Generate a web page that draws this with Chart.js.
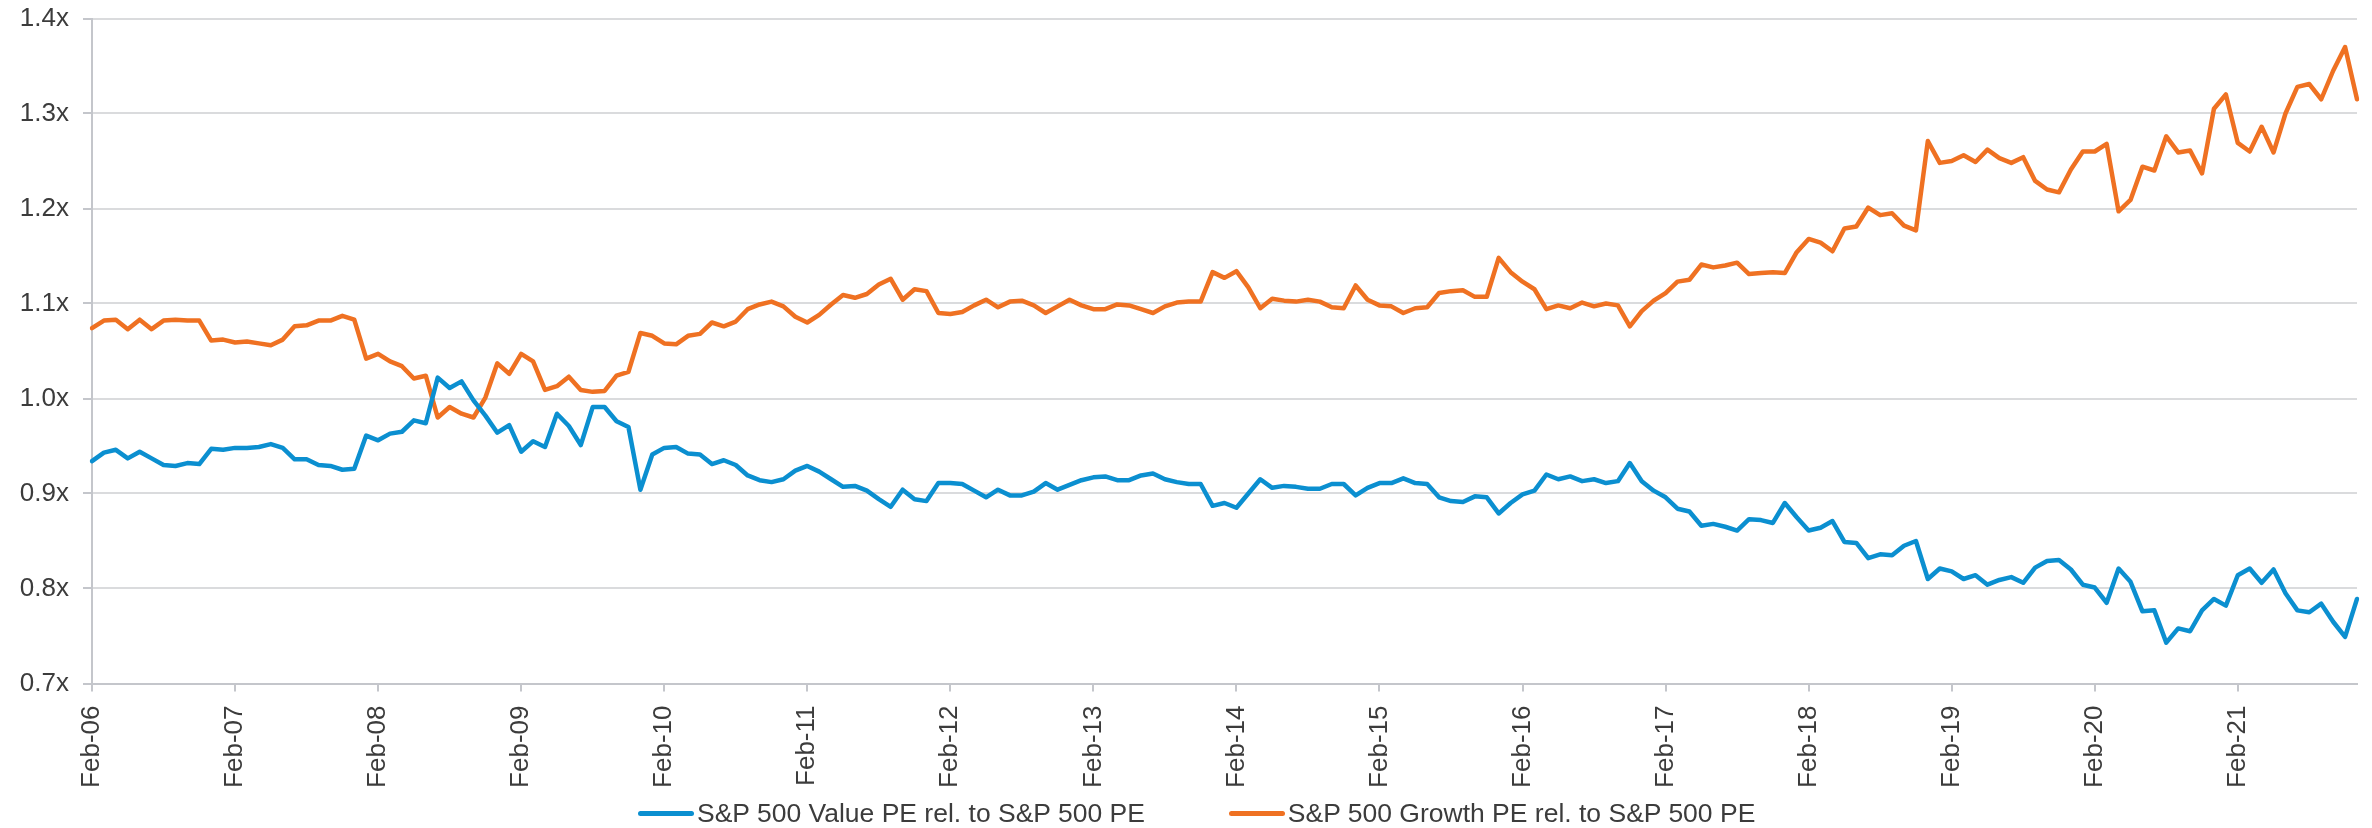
<!DOCTYPE html>
<html>
<head>
<meta charset="utf-8">
<script src="https://cdn.jsdelivr.net/npm/chart.js@4/dist/chart.umd.min.js"></script>
<style>
  html, body { margin:0; padding:0; background:#fff; }
  #wrap { position:relative; width:2372px; height:828px; }
  #legend { position:absolute; left:638px; top:797px; height:32px; display:flex; align-items:center;
    font-family:"Liberation Sans", Arial, sans-serif; font-size:26.5px; color:#3c3c3c; white-space:nowrap; }
  #legend .item { display:flex; align-items:center; margin-right:84px; }
  #legend .swatch { width:56px; height:5px; border-radius:3px; margin-right:3px; }
</style>
</head>
<body>
<div id="wrap">
  <canvas id="chart" width="2372" height="828"></canvas>
  <div id="legend"></div>
</div>
<script>
// monthly categories, Feb-06 .. Dec-21
const monthNames = ['Jan','Feb','Mar','Apr','May','Jun','Jul','Aug','Sep','Oct','Nov','Dec'];
const months = [];
for (let k = 0; k < 191; k++) {
  const m = (1 + k) % 12;
  const y = 2006 + Math.floor((1 + k) / 12);
  months.push(monthNames[m] + '-' + String(y).slice(2));
}

// labels shown on the x axis
const tickLabels = ['Feb-06','Feb-07','Feb-08','Feb-09','Feb-10','Feb-11','Feb-12','Feb-13',
  'Feb-14','Feb-15','Feb-16','Feb-17','Feb-18','Feb-19','Feb-20','Feb-21'];

const yTicks = [0.7, 0.8, 0.9, 1.0, 1.1, 1.2, 1.3, 1.4];

const seriesNames = ['S&P 500 Value PE rel. to S&P 500 PE', 'S&P 500 Growth PE rel. to S&P 500 PE'];

const valueRel = [
  0.934,0.943,0.946,0.937,0.944,0.937,0.930,0.929,0.932,0.931,0.947,0.946,
  0.948,0.948,0.949,0.952,0.948,0.936,0.936,0.930,0.929,0.925,0.926,0.961,
  0.956,0.963,0.965,0.977,0.974,1.022,1.011,1.018,0.998,0.982,0.964,0.972,
  0.944,0.955,0.949,0.984,0.971,0.951,0.991,0.991,0.976,0.970,0.904,0.941,
  0.948,0.949,0.942,0.941,0.931,0.935,0.930,0.919,0.914,0.912,0.915,0.924,
  0.929,0.923,0.915,0.907,0.908,0.903,0.894,0.886,0.904,0.894,0.892,0.911,
  0.911,0.910,0.903,0.896,0.904,0.898,0.898,0.902,0.911,0.904,0.909,0.914,
  0.917,0.918,0.914,0.914,0.919,0.921,0.915,0.912,0.910,0.910,0.887,0.890,
  0.885,0.900,0.915,0.906,0.908,0.907,0.905,0.905,0.910,0.910,0.898,0.906,
  0.911,0.911,0.916,0.911,0.910,0.896,0.892,0.891,0.897,0.896,0.879,0.890,
  0.899,0.903,0.920,0.915,0.918,0.913,0.915,0.911,0.913,0.932,0.913,0.903,
  0.896,0.884,0.881,0.866,0.868,0.865,0.861,0.873,0.872,0.869,0.890,0.875,
  0.861,0.864,0.871,0.849,0.848,0.832,0.836,0.835,0.845,0.850,0.810,0.821,
  0.818,0.810,0.814,0.804,0.809,0.812,0.806,0.822,0.829,0.830,0.820,0.804,
  0.801,0.785,0.821,0.807,0.776,0.777,0.743,0.758,0.755,0.777,0.789,0.782,
  0.814,0.821,0.806,0.820,0.795,0.777,0.775,0.784,0.765,0.749,0.789
];

const growthRel = [
  1.074,1.082,1.083,1.073,1.083,1.073,1.082,1.083,1.082,1.082,1.061,1.062,
  1.059,1.060,1.058,1.056,1.062,1.076,1.077,1.082,1.082,1.087,1.083,1.042,
  1.047,1.039,1.034,1.021,1.024,0.980,0.991,0.984,0.980,1.001,1.037,1.026,
  1.047,1.039,1.009,1.013,1.023,1.009,1.007,1.008,1.024,1.028,1.069,1.066,
  1.058,1.057,1.066,1.068,1.080,1.076,1.081,1.094,1.099,1.102,1.097,1.086,
  1.080,1.088,1.099,1.109,1.106,1.110,1.120,1.126,1.104,1.115,1.113,1.090,
  1.089,1.091,1.098,1.104,1.096,1.102,1.103,1.098,1.090,1.097,1.104,1.098,
  1.094,1.094,1.099,1.098,1.094,1.090,1.097,1.101,1.102,1.102,1.133,1.127,
  1.134,1.117,1.095,1.105,1.103,1.102,1.104,1.102,1.096,1.095,1.119,1.104,
  1.098,1.097,1.090,1.095,1.096,1.111,1.113,1.114,1.107,1.107,1.148,1.133,
  1.123,1.115,1.094,1.098,1.095,1.101,1.097,1.100,1.098,1.076,1.092,1.103,
  1.111,1.123,1.125,1.141,1.138,1.140,1.143,1.131,1.132,1.133,1.132,1.154,
  1.168,1.164,1.155,1.179,1.181,1.201,1.193,1.195,1.182,1.177,1.271,1.248,
  1.250,1.256,1.249,1.262,1.253,1.248,1.254,1.229,1.220,1.217,1.241,1.260,
  1.260,1.268,1.197,1.209,1.244,1.240,1.276,1.259,1.261,1.237,1.305,1.320,
  1.269,1.260,1.286,1.259,1.300,1.328,1.331,1.315,1.345,1.370,1.315
];

const BLUE = '#0b8fd0';
const ORANGE = '#ef7122';
const TXT = '#3c3c3c';
const FONT = { family: '"Liberation Sans", Arial, sans-serif', size: 26 };

const ctx = document.getElementById('chart');
const chart = new Chart(ctx, {
  type: 'line',
  data: {
    labels: months,
    datasets: [
      { label: seriesNames[0], data: valueRel,
        borderColor: BLUE, backgroundColor: BLUE, borderWidth: 4.5,
        pointRadius: 0, tension: 0, borderJoinStyle: 'round', borderCapStyle: 'round' },
      { label: seriesNames[1], data: growthRel,
        borderColor: ORANGE, backgroundColor: ORANGE, borderWidth: 4.5,
        pointRadius: 0, tension: 0, borderJoinStyle: 'round', borderCapStyle: 'round' }
    ]
  },
  options: {
    responsive: false,
    animation: false,
    layout: { padding: { left: 0, right: 15, top: 18.5, bottom: 29.5 } },
    plugins: {
      tooltip: { enabled: false },
      legend: { display: false }
    },
    scales: {
      x: {
        offset: false,
        afterFit(s) { s.height = 115; },
        grid: {
          drawOnChartArea: false, drawTicks: true, tickLength: 8, lineWidth: 2,
          color: '#c4c6cb'
        },
        border: { color: '#c4c6cb', width: 2 },
        ticks: {
          autoSkip: false, minRotation: 90, maxRotation: 90, padding: 14,
          color: TXT, font: FONT,
          callback(v) { const l = months[v]; return tickLabels.includes(l) ? l : null; }
        }
      },
      y: {
        min: 0.7, max: 1.4,
        afterFit(s) { s.width = 92; s.paddingTop = 0; s.paddingBottom = 0; },
        afterBuildTicks(s) { s.ticks = yTicks.map(v => ({ value: v })); },
        grid: { color: '#dadbdd', lineWidth: 2, tickLength: 9, tickColor: '#c4c6cb' },
        border: { color: '#c4c6cb', width: 2 },
        ticks: { color: TXT, font: FONT, padding: 14,
          callback(v) { return v.toFixed(1) + 'x'; } }
      }
    }
  }
});

// legend built from the chart's datasets
const legendEl = document.getElementById('legend');
chart.data.datasets.forEach(ds => {
  const item = document.createElement('div');
  item.className = 'item';
  const sw = document.createElement('span');
  sw.className = 'swatch';
  sw.style.background = ds.borderColor;
  const tx = document.createElement('span');
  tx.textContent = ds.label;
  item.appendChild(sw);
  item.appendChild(tx);
  legendEl.appendChild(item);
});
</script>
</body>
</html>
